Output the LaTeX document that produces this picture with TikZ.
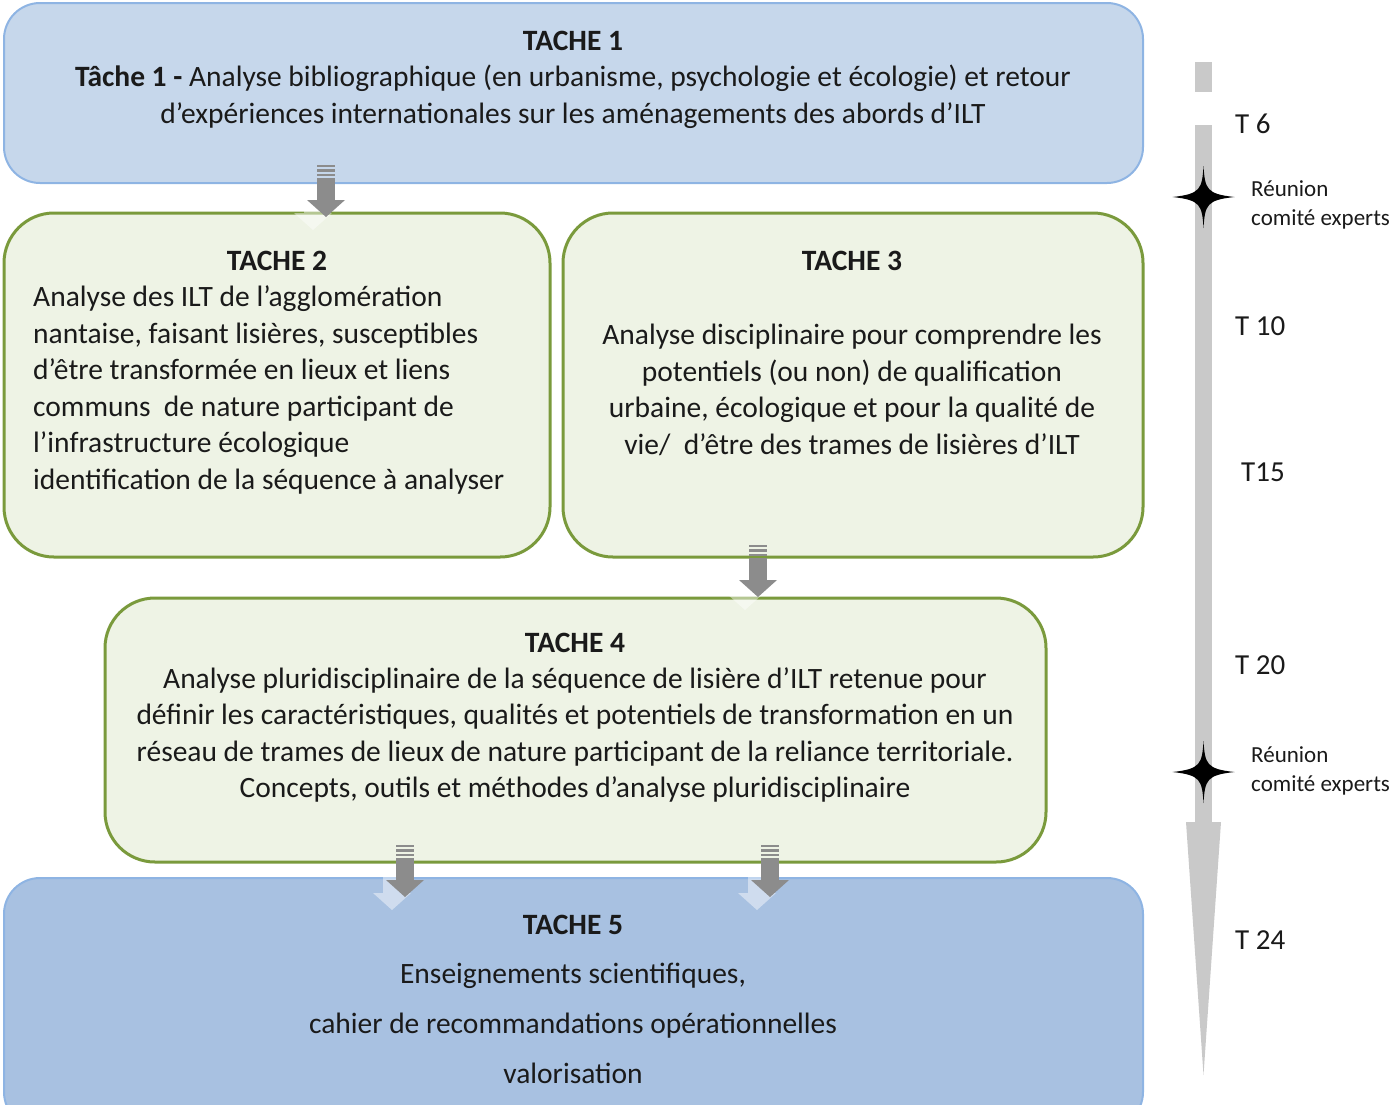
\documentclass[tikz,border=0pt]{standalone}
\usepackage{fontspec}
\setmainfont{Carlito}
\definecolor{lblue}{HTML}{C6D7EB}
\definecolor{mblue}{HTML}{A8C1E1}
\definecolor{bblue}{HTML}{8EB4E3}
\definecolor{lgreen}{HTML}{EEF3E5}
\definecolor{bgreen}{HTML}{7A9A3C}
\definecolor{arrgray}{HTML}{8C8C8C}
\definecolor{tlgray}{HTML}{C9C9C9}
\definecolor{txtc}{HTML}{1A1A1A}
\begin{document}
\begin{tikzpicture}[x=1pt,y=-1pt,
  bluebox/.style={draw=bblue,line width=2pt,rounded corners=36pt,fill=lblue},
  darkbox/.style={draw=bblue,line width=2pt,rounded corners=36pt,fill=mblue},
  greenbox/.style={draw=bgreen,line width=3pt,rounded corners=50pt,fill=lgreen},
  txt/.style={font=\fontsize{29.5}{36.6}\selectfont,inner sep=0pt,text=txtc},
  ttl/.style={font=\fontsize{29.5}{30}\selectfont\bfseries,inner sep=0pt,text=txtc},
  tl/.style={font=\fontsize{29}{30}\selectfont,inner sep=0pt,anchor=west,text=txtc},
  reu/.style={font=\fontsize{23}{29}\selectfont,inner sep=0pt,anchor=west,align=left,text=txtc},
  blockarrow/.pic={
    \fill[white,opacity=0.45] (-9-13,12+13) rectangle (9-13,35+13);
    \fill[white,opacity=0.45] (-19-13,35+13) -- (19-13,35+13) -- (0-13,52+13) -- cycle;
    \fill[arrgray] (-9,0) rectangle (9,2);
    \fill[arrgray] (-9,4) rectangle (9,6.5);
    \fill[arrgray] (-9,8.5) rectangle (9,11);
    \fill[arrgray] (-9,13) rectangle (9,35);
    \fill[arrgray] (-19,35) -- (19,35) -- (0,52) -- cycle;
  },
  star/.pic={
    \fill[black] (0,-31) .. controls (1.5,-8) and (3,-3) .. (31,0)
      .. controls (3,3) and (1.5,8) .. (0,31)
      .. controls (-1.5,8) and (-3,3) .. (-31,0)
      .. controls (-3,-3) and (-1.5,-8) .. (0,-31) -- cycle;
  }]
\useasboundingbox (0,0) rectangle (1398,1104);
\clip (0,0) rectangle (1398,1104);

% boxes
\node[bluebox,minimum width=1139pt,minimum height=180pt] (b1) at (573.5,93) {};
\node[greenbox,minimum width=546pt,minimum height=344pt] (b2) at (277,385) {};
\node[greenbox,minimum width=580pt,minimum height=344pt] (b3) at (853,385) {};
\node[greenbox,minimum width=941pt,minimum height=264pt] (b4) at (575.5,730) {};
\node[darkbox,minimum width=1139pt,minimum height=250pt] (b5) at (573.5,1003) {};

% texts
\node[ttl] (t1) at (573,41) {TACHE 1};
\node[txt,align=center] (x1) at (573,97) {\textbf{Tâche 1 -} Analyse bibliographique (en urbanisme, psychologie et écologie) et retour\\d’expériences internationales sur les aménagements des abords d’ILT};
\node[ttl] (t2) at (277,261) {TACHE 2};
\node[txt,align=left,anchor=west] (x2) at (33,390) {Analyse des ILT de l’agglomération\\nantaise, faisant lisières, susceptibles\\d’être transformée en lieux et liens\\communs~ de nature participant de\\l’infrastructure écologique\\identification de la séquence à analyser};
\node[ttl] (t3) at (852,261) {TACHE 3};
\node[txt,align=center] (x3) at (852,390) {Analyse disciplinaire pour comprendre les\\potentiels (ou non) de qualification\\urbaine, écologique et pour la qualité de\\vie/~ d’être des trames de lisières d’ILT};
\node[ttl] (t4) at (575,643) {TACHE 4};
\node[txt,align=center] (x4) at (575,735) {Analyse pluridisciplinaire de la séquence de lisière d’ILT retenue pour\\définir les caractéristiques, qualités et potentiels de transformation en un\\réseau de trames de lieux de nature participant de la reliance territoriale.\\Concepts, outils et méthodes d’analyse pluridisciplinaire};
\node[ttl] (t5) at (573,925) {TACHE 5};
\node[txt,align=center,font=\fontsize{29.5}{50}\selectfont] (x5) at (573,1023) {Enseignements scientifiques,\\cahier de recommandations opérationnelles\\valorisation};

% block arrows
\pic at (326,165) {blockarrow};
\pic at (758,545) {blockarrow};
\pic at (405,845) {blockarrow};
\pic at (770,845) {blockarrow};

% timeline
\fill[tlgray] (1195,62) rectangle (1212,92);
\fill[tlgray] (1195,125) rectangle (1212,822);
\fill[tlgray] (1186,822) -- (1221,822) -- (1203.5,1075) -- cycle;
\pic at (1203.5,197) {star};
\pic at (1203.5,772) {star};

\node[tl] (T6) at (1235,124) {T 6};
\node[tl] (T10) at (1235,326) {T 10};
\node[tl] (T15) at (1241,472) {T15};
\node[tl] (T20) at (1235,665) {T 20};
\node[tl] (T24) at (1235,940) {T 24};
\node[reu] (r1) at (1251,205) {Réunion\\comité experts};
\node[reu] (r2) at (1251,771) {Réunion\\comité experts};
\end{tikzpicture}
\end{document}
